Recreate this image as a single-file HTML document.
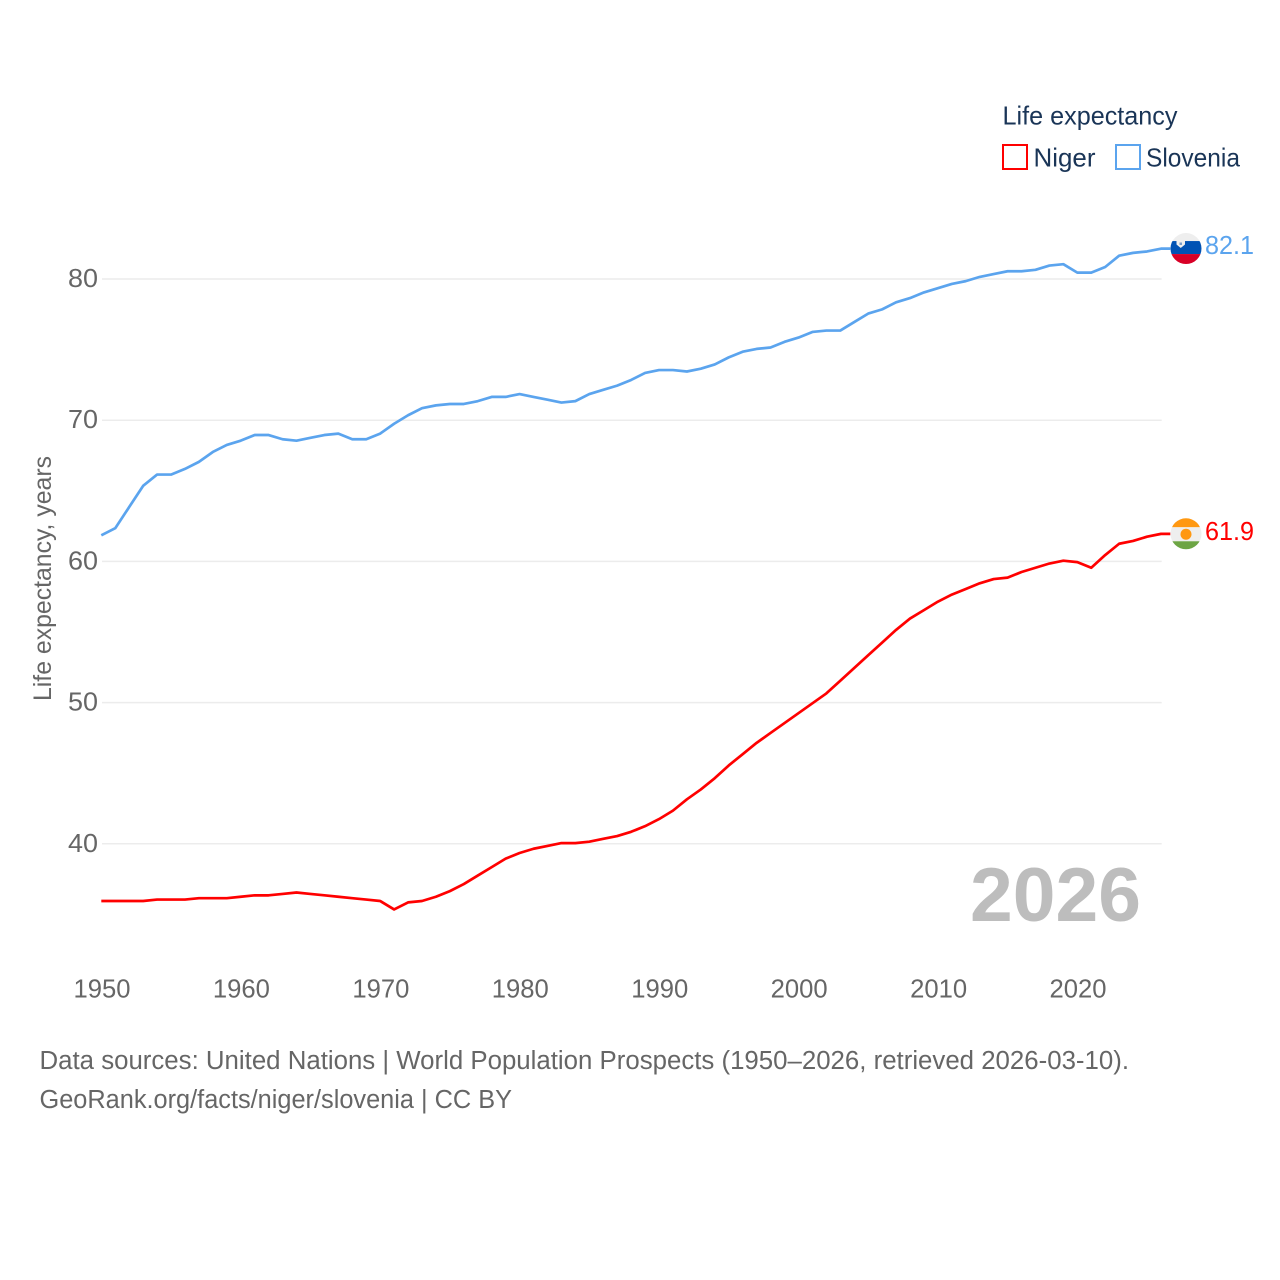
<!DOCTYPE html>
<html lang="en">
<head>
<meta charset="utf-8">
<title>Life expectancy: Niger and Slovenia</title>
<style>
html,body{margin:0;padding:0;background:#fff;width:1280px;height:1280px;overflow:hidden}
svg{display:block}
text{font-family:"Liberation Sans",sans-serif}
</style>
</head>
<body>
<svg id="chart" width="1280" height="1280" viewBox="0 0 1280 1280" xmlns="http://www.w3.org/2000/svg">
  <rect width="1280" height="1280" fill="#fff"/>
  <g id="grid"></g>
  <g id="yticks"></g>
  <g id="xticks"></g>
  <g id="series" transform="translate(-0.7,-0.7)"></g>

  <text transform="translate(51,701) rotate(-90)" font-size="25" fill="#666" textLength="245" lengthAdjust="spacingAndGlyphs">Life expectancy, years</text>

  <g>
    <text x="1002.500" y="124.500" font-size="26" fill="#1a3557" textLength="175" lengthAdjust="spacingAndGlyphs">Life expectancy</text>
    <rect x="1003" y="145" width="24" height="24" fill="#fff" stroke="#ff0000" stroke-width="2"/>
    <text x="1033.500" y="166.500" font-size="26" fill="#1a3557" textLength="62" lengthAdjust="spacingAndGlyphs">Niger</text>
    <rect x="1116" y="145" width="24" height="24" fill="#fff" stroke="#5ba4ee" stroke-width="2"/>
    <text x="1146" y="166.500" font-size="26" fill="#1a3557" textLength="94" lengthAdjust="spacingAndGlyphs">Slovenia</text>
  </g>

  <text x="970" y="921" font-size="76" font-weight="bold" fill="#bdbdbd" textLength="171" lengthAdjust="spacingAndGlyphs">2026</text>

  <defs>
    <clipPath id="clip-si"><circle id="clip-si-circle" cx="1186" cy="249" r="15.500"/></clipPath>
    <clipPath id="clip-ne"><circle id="clip-ne-circle" cx="1186" cy="534" r="15.500"/></clipPath>
  </defs>
  <g id="flag-si"></g>
  <g id="flag-ne"></g>

  <text id="value-si" x="1205" font-size="26" fill="#5ba4ee" textLength="49" lengthAdjust="spacingAndGlyphs"></text>
  <text id="value-ne" x="1205" font-size="26" fill="#ff0000" textLength="49" lengthAdjust="spacingAndGlyphs"></text>

  <text x="39.500" y="1069" font-size="25.500" fill="#666" textLength="1089.500" lengthAdjust="spacingAndGlyphs">Data sources: United Nations | World Population Prospects (1950–2026, retrieved 2026-03-10).</text>
  <a><text x="39.500" y="1108" font-size="25.500" fill="#666" textLength="472.500" lengthAdjust="spacingAndGlyphs">GeoRank.org/facts/niger/slovenia | CC BY</text></a>
</svg>
<script>
var firstYear = 1950;
var yTickValues = [40, 50, 60, 70, 80];
var xTickYears = [1950, 1960, 1970, 1980, 1990, 2000, 2010, 2020];
var slovenia = [
  61.8,62.3,63.8,65.3,66.1,66.1,66.5,67.0,67.7,68.2,
  68.5,68.9,68.9,68.6,68.5,68.7,68.9,69.0,68.6,68.6,
  69.0,69.7,70.3,70.8,71.0,71.1,71.1,71.3,71.6,71.6,
  71.8,71.6,71.4,71.2,71.3,71.8,72.1,72.4,72.8,73.3,
  73.5,73.5,73.4,73.6,73.9,74.4,74.8,75.0,75.1,75.5,
  75.8,76.2,76.3,76.3,76.9,77.5,77.8,78.3,78.6,79.0,
  79.3,79.6,79.8,80.1,80.3,80.5,80.5,80.6,80.9,81.0,
  80.4,80.4,80.8,81.6,81.8,81.9,82.1
];
var niger = [
  35.9,35.9,35.9,35.9,36.0,36.0,36.0,36.1,36.1,36.1,
  36.2,36.3,36.3,36.4,36.5,36.4,36.3,36.2,36.1,36.0,
  35.9,35.3,35.8,35.9,36.2,36.6,37.1,37.7,38.3,38.9,
  39.3,39.6,39.8,40.0,40.0,40.1,40.3,40.5,40.8,41.2,
  41.7,42.3,43.1,43.8,44.6,45.5,46.3,47.1,47.8,48.5,
  49.2,49.9,50.6,51.5,52.4,53.3,54.2,55.1,55.9,56.5,
  57.1,57.6,58.0,58.4,58.7,58.8,59.2,59.5,59.8,60.0,
  59.9,59.5,60.4,61.2,61.4,61.7,61.9
];

var NS = 'http://www.w3.org/2000/svg';
function xScale(year) { return 102 + (year - 1950) * 13.943; }
function yScale(v) { return 279 + (80 - v) * 14.12; }
function make(tag, attrs, parent) {
  var el = document.createElementNS(NS, tag);
  for (var k in attrs) el.setAttribute(k, attrs[k]);
  parent.appendChild(el);
  return el;
}

var grid = document.getElementById('grid');
var yticks = document.getElementById('yticks');
var xticks = document.getElementById('xticks');
var series = document.getElementById('series');
var lastYear = firstYear + slovenia.length - 1;

yTickValues.forEach(function (v) {
  var line = make('line', {x1: xScale(firstYear), x2: xScale(lastYear), y1: yScale(v), y2: yScale(v), stroke: '#ececec', 'stroke-width': 1.5}, grid);
  
  
  var t = make('text', {x: 68, y: yScale(v) + 8, 'font-size': 26, fill: '#666', textLength: 30, lengthAdjust: 'spacingAndGlyphs'}, yticks);
  t.textContent = String(v);
  
  
});

xTickYears.forEach(function (y) {
  var t = make('text', {x: xScale(y) - 28.5, y: 997.5, 'font-size': 26, fill: '#666', textLength: 57, lengthAdjust: 'spacingAndGlyphs'}, xticks);
  t.textContent = String(y);
  
  
});

function drawSeries(values, color) {
  var pts = values.map(function (v, i) {
    return xScale(firstYear + i).toFixed(2) + ',' + yScale(v).toFixed(2);
  });
  var endY = yScale(values[values.length - 1]).toFixed(2);
  pts.push('1171,' + endY);
  return make('polyline', {points: pts.join(' '), fill: 'none', stroke: color, 'stroke-width': 2.7, 'stroke-linejoin': 'round'}, series);
}
var sloveniaLine = drawSeries(slovenia, '#5ba4ee');


var nigerLine = drawSeries(niger, '#ff0000');



var siEnd = slovenia[slovenia.length - 1];
var neEnd = niger[niger.length - 1];
var siY = yScale(siEnd) - 0.8;
var neY = yScale(neEnd) - 0.8;

var siText = document.getElementById('value-si');
siText.setAttribute('y', siY + 5.5);
siText.textContent = siEnd.toFixed(1);
var neText = document.getElementById('value-ne');
neText.setAttribute('y', neY + 6);
neText.textContent = neEnd.toFixed(1);

document.getElementById('clip-si-circle').setAttribute('cy', siY);
document.getElementById('clip-ne-circle').setAttribute('cy', neY);

var fs = document.getElementById('flag-si');
fs.setAttribute('clip-path', 'url(#clip-si)');
make('rect', {x: 1170, y: siY - 16, width: 32, height: 8.5, fill: '#eeeeee'}, fs);
make('rect', {x: 1170, y: siY - 7.5, width: 32, height: 13, fill: '#0052b4'}, fs);
make('rect', {x: 1170, y: siY + 5.5, width: 32, height: 11, fill: '#d80027'}, fs);
make('path', {d: 'M1176.500 ' + (siY - 9.5) + 'h8.500v5.500l-4.250 3.500l-4.250-3.500z', fill: '#eeeeee'}, fs);
make('path', {d: 'M1179.500 ' + (siY - 6) + 'h2.500v2.500h-2.500z', fill: '#7a9cc8'}, fs);

var fn = document.getElementById('flag-ne');
fn.setAttribute('clip-path', 'url(#clip-ne)');
make('rect', {x: 1170, y: neY - 16, width: 32, height: 9.5, fill: '#ff9811'}, fn);
make('rect', {x: 1170, y: neY - 6.5, width: 32, height: 14, fill: '#eeeeee'}, fn);
make('rect', {x: 1170, y: neY + 7.5, width: 32, height: 9, fill: '#6da544'}, fn);
make('circle', {cx: 1186, cy: neY + 0.5, r: 5.5, fill: '#ff9811'}, fn);
</script>
</body>
</html>
